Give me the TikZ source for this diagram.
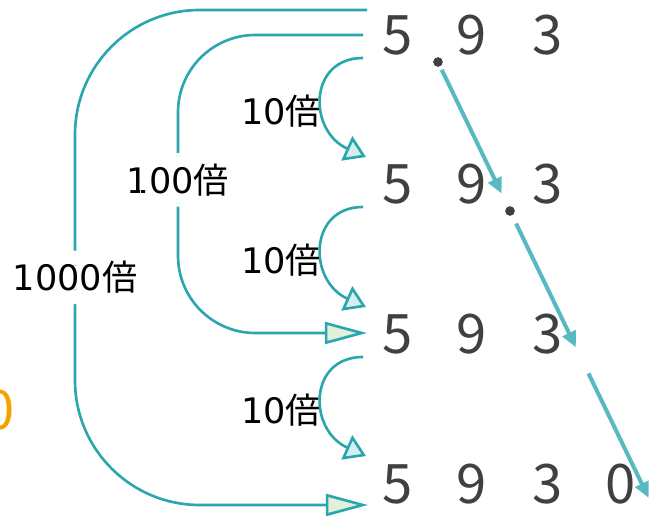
\documentclass[tikz,border=0pt]{standalone}
\usepackage{fontspec}
\setmainfont{DejaVu Sans}
\newfontfamily\jp{Noto Sans CJK JP}
\usetikzlibrary{arrows.meta}
\definecolor{tealline}{HTML}{2BA6AF}
\definecolor{tealmove}{HTML}{58B9C2}
\definecolor{paleblue}{HTML}{D5EEF0}
\definecolor{palegreen}{HTML}{E2EFD9}
\definecolor{ink}{HTML}{404040}
\definecolor{orng}{HTML}{F5A200}
\tikzset{
  digitnode/.style={anchor=base, inner sep=0pt, text=ink, font=\jp\fontsize{31pt}{31pt}\selectfont},
  labeltxt/.style={text=black, font=\fontsize{20pt}{20pt}\selectfont, inner sep=1pt},
  gaplabel/.style={labeltxt, fill=white, inner xsep=2pt, inner ysep=6pt},
  tenarrow/.style={tealline, line width=1.5pt, -{Triangle[length=12pt,width=15pt,fill=paleblue]}},
  bigarrow/.style={tealline, line width=1.5pt, -{Triangle[length=24pt,width=12.5pt,fill=palegreen]}},
  pointarrow/.style={tealmove, line width=2.3pt, -{Triangle[length=9pt,width=8pt]}, shorten >=8pt, shorten <=5pt},
  dotnode/.style={circle, fill=ink, inner sep=0pt, minimum size=5.5pt}
}
\begin{document}
\begin{tikzpicture}[x=0.02cm, y=-0.02cm]
  \clip (0,0) rectangle (665,519);
  % Rows of digits
  \foreach \i/\y in {1/55,2/204,3/354,4/503} {
    \node[digitnode] (f\i) at (398,\y) {5};
    \node[digitnode] (n\i) at (472,\y) {9};
    \node[digitnode] (t\i) at (548,\y) {3};
  }
  \node[digitnode] (z4) at (621,503) {0};
  \node[digitnode, text=orng] (cut) at (0,430) {0};
  % Decimal points
  \node[dotnode] (d1) at (438,62) {};
  \node[dotnode] (d2) at (510,211) {};
  \coordinate (d3) at (582,360);
  \coordinate (d4) at (654,509);
  \draw[pointarrow, shorten <=2pt] (d1) -- (d2);
  \draw[pointarrow] (d2) -- (d3);
  \draw[pointarrow, shorten <=8.5pt, shorten >=7pt] (d3) -- (d4);
  % 10 times
  \foreach \a/\b in {1/2,2/3,3/4} {
    \draw[tenarrow] ([shift={(-35,3)}]f\a.base) .. controls +(-55,0) and +(-58,-26) .. node[labeltxt, pos=0.6, anchor=east] {10{\jp 倍}} ([shift={(-32,-47)}]f\b.base);
  }
  % 100 times, 1000 times
  \draw[bigarrow, rounded corners=44pt] ([shift={(-35,-20)}]f1.base) -- ++(-185,0) |- node[gaplabel, pos=0.243] {100{\jp 倍}} ([shift={(-31,-21)}]f3.base);
  \draw[bigarrow, rounded corners=71pt] ([shift={(-31,-45)}]f1.base) -- ++(-292,0) |- node[gaplabel, pos=0.27] {1000{\jp 倍}} ([shift={(-30,2)}]f4.base);
\end{tikzpicture}
\end{document}
